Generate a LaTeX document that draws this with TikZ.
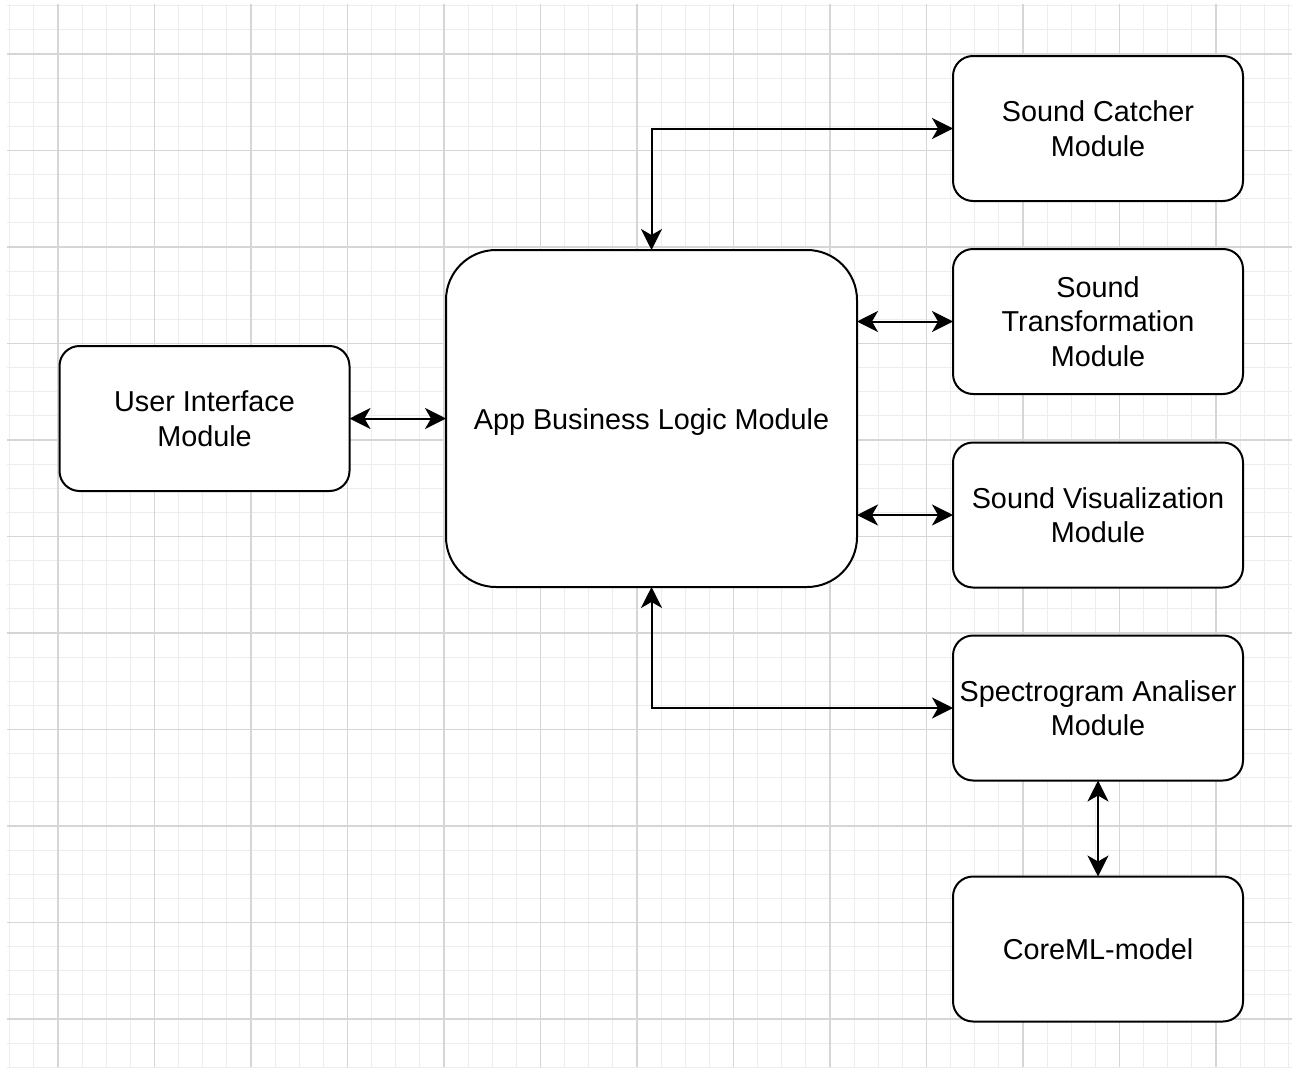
\documentclass[tikz,border=0pt]{standalone}
\usepackage{fontspec}
\setmainfont{Liberation Sans}
\usetikzlibrary{arrows.meta}
\begin{document}
\begin{tikzpicture}[x=1pt,y=-1pt,
  box/.style={draw=black, line width=2pt, rounded corners=20pt, fill=white,
    minimum width=290pt, minimum height=145pt, inner sep=0pt, outer sep=0pt,
    align=center, font=\fontsize{28.8}{34.5}\selectfont},
  bigbox/.style={box, rounded corners=50pt, minimum width=411pt, minimum height=337pt},
  biarrow/.style={line width=2pt, {Stealth[length=21pt,width=21pt,inset=6pt]}-{Stealth[length=21pt,width=21pt,inset=6pt]}},
  minorgrid/.style={draw=black!7, line width=1.2pt},
  majorgrid/.style={draw=black!16, line width=1.2pt}]
\useasboundingbox (0,0) rectangle (1298,1068);
\fill[white] (0,0) rectangle (1298,1068);
\begin{scope}
  \clip (7,4) rectangle (1292,1067);
  \foreach \i in {0,...,54} {
    \draw[minorgrid] ({9.75+\i*24.125},4) -- ({9.75+\i*24.125},1067);
  }
  \foreach \i in {0,...,45} {
    \draw[minorgrid] (7,{5.75+\i*24.125}) -- (1292,{5.75+\i*24.125});
  }
  \foreach \i in {0,...,13} {
    \draw[majorgrid] ({58+\i*96.5},4) -- ({58+\i*96.5},1067);
  }
  \foreach \i in {0,...,11} {
    \draw[majorgrid] (7,{54+\i*96.5}) -- (1292,{54+\i*96.5});
  }
\end{scope}

\node[box] (ui) at (204.5,418.5) {User Interface\\Module};
\node[bigbox, text height=27pt, text depth=6pt] (app) at (651.5,418.5) {App Business Logic Module};
\node[box] (catch) at (1098,128.5) {Sound Catcher\\Module};
\node[box] (trans) at (1098,321.5) {Sound\\Transformation\\Module};
\node[box] (vis) at (1098,515) {Sound Visualization\\Module};
\node[box] (spec) at (1098,708) {Spectrogram Analiser\\Module};
\node[box] (core) at (1098,949) {CoreML-model};

\draw[biarrow] (ui.east) -- (app.west);
\draw[biarrow] (app.north) |- (catch.west);
\draw[biarrow] (trans.west -| app.east) -- (trans.west);
\draw[biarrow] (vis.west -| app.east) -- (vis.west);
\draw[biarrow] (app.south) |- (spec.west);
\draw[biarrow] (spec.south) -- (core.north);
\end{tikzpicture}
\end{document}
